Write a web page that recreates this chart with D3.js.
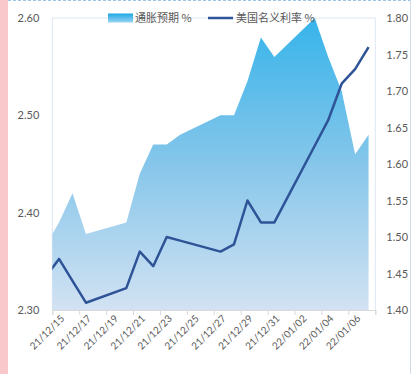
<!DOCTYPE html>
<html>
<head>
<meta charset="utf-8">
<script src="https://cdn.jsdelivr.net/npm/d3@7"></script>
<style>
  html, body { margin: 0; padding: 0; background: #fff; }
  svg { display: block; }
</style>
</head>
<body>
<div id="chart"></div>
<script>
// Data (business days; 12/14 lies just left of the axis start and is clipped)
const dates = ['2021-12-14', '2021-12-15', '2021-12-16', '2021-12-17', '2021-12-20', '2021-12-21',
  '2021-12-22', '2021-12-23', '2021-12-24', '2021-12-27', '2021-12-28', '2021-12-29', '2021-12-30',
  '2021-12-31', '2022-01-03', '2022-01-04', '2022-01-05', '2022-01-06', '2022-01-07'];
const inflationExp = [2.366, 2.39, 2.42, 2.378, 2.39, 2.44, 2.47, 2.47, 2.48, 2.50, 2.50, 2.535,
  2.58, 2.56, 2.60, 2.56, 2.525, 2.46, 2.48];
const nominalRate = [1.445, 1.47, 1.44, 1.41, 1.43, 1.48, 1.46, 1.50, 1.495, 1.48, 1.49, 1.55,
  1.52, 1.52, 1.625, 1.66, 1.71, 1.73, 1.76];
const tickDates = ['2021-12-15', '2021-12-17', '2021-12-19', '2021-12-21', '2021-12-23', '2021-12-25',
  '2021-12-27', '2021-12-29', '2021-12-31', '2022-01-02', '2022-01-04', '2022-01-06', '2022-01-08'];
const leftTicks = [2.30, 2.40, 2.50, 2.60];
const rightTicks = [1.40, 1.45, 1.50, 1.55, 1.60, 1.65, 1.70, 1.75, 1.80];
const seriesNames = ['通胀预期 %', '美国名义利率 %'];

const width = 412, height = 374;
const plot = { left: 52.3, right: 375.3, top: 18, bottom: 310 };

const parse = d3.timeParse('%Y-%m-%d');
// points sit in the middle of each day's slot
const noon = s => d3.timeHour.offset(parse(s), 12);
const data = dates.map((d, i) => ({ date: noon(d), infl: inflationExp[i], rate: nominalRate[i] }));

const svg = d3.select('#chart')
  .append('svg')
  .attr('width', width)
  .attr('height', height);

const x = d3.scaleTime()
  .domain([parse(tickDates[0]), parse(tickDates[tickDates.length - 1])])
  .range([plot.left, plot.right]);
const yL = d3.scaleLinear().domain([2.3, 2.6]).range([plot.bottom, plot.top]);
const yR = d3.scaleLinear().domain([1.4, 1.8]).range([plot.bottom, plot.top]);

const numFont = 'Lato, "Noto Sans", sans-serif';
const cjkFont = '"Noto Sans CJK SC", "Noto Sans", sans-serif';
const textColor = '#595959';

// Frame decorations
svg.append('rect')
  .attr('x', 0).attr('y', 0).attr('width', 8).attr('height', height)
  .attr('fill', '#f9c8cb');
svg.append('line')
  .attr('x1', 8).attr('x2', width).attr('y1', 0.5).attr('y2', 0.5)
  .attr('stroke', '#9dc3e6').attr('stroke-dasharray', '3,2');
svg.append('line')
  .attr('x1', width - 1.5).attr('x2', width - 1.5).attr('y1', 0).attr('y2', height)
  .attr('stroke', '#d0dce8');

const defs = svg.append('defs');
const grad = defs.append('linearGradient')
  .attr('id', 'areaGrad')
  .attr('gradientUnits', 'userSpaceOnUse')
  .attr('x1', 0).attr('x2', 0)
  .attr('y1', plot.top).attr('y2', plot.bottom);
grad.append('stop').attr('offset', '0%').attr('stop-color', '#36b4ea');
grad.append('stop').attr('offset', '50%').attr('stop-color', '#86c6ea');
grad.append('stop').attr('offset', '100%').attr('stop-color', '#d2e2f3');

const swGrad = defs.append('linearGradient')
  .attr('id', 'swatchGrad')
  .attr('x1', 0).attr('x2', 0).attr('y1', 0).attr('y2', 1);
swGrad.append('stop').attr('offset', '0%').attr('stop-color', '#1da8e6');
swGrad.append('stop').attr('offset', '100%').attr('stop-color', '#9ad4f2');

defs.append('clipPath').attr('id', 'plotClip')
  .append('rect')
  .attr('x', plot.left).attr('y', plot.top - 2)
  .attr('width', plot.right - plot.left).attr('height', plot.bottom - plot.top + 2);

// Plot frame
svg.append('path')
  .attr('d', `M${plot.left},${plot.bottom}V${plot.top}H${plot.right}V${plot.bottom}`)
  .attr('fill', 'none')
  .attr('stroke', '#dce6f2');

// Area series
const area = d3.area()
  .x(d => x(d.date))
  .y0(plot.bottom)
  .y1(d => yL(d.infl));
svg.append('path')
  .datum(data)
  .attr('clip-path', 'url(#plotClip)')
  .attr('fill', 'url(#areaGrad)')
  .attr('d', area);

// Line series
const line = d3.line()
  .x(d => x(d.date))
  .y(d => yR(d.rate));
svg.append('path')
  .datum(data)
  .attr('clip-path', 'url(#plotClip)')
  .attr('fill', 'none')
  .attr('stroke', '#2e5497')
  .attr('stroke-width', 2.5)
  .attr('stroke-linejoin', 'round')
  .attr('d', line);

// X axis
const xTicks = tickDates.map(parse);
const fmt = d3.timeFormat('%y/%m/%d');
const xAxis = svg.append('g')
  .attr('transform', `translate(0,${plot.bottom})`)
  .call(d3.axisBottom(x)
    .tickValues(xTicks)
    .tickSize(5)
    .tickFormat((d, i) => i < xTicks.length - 1 ? fmt(d) : ''));
xAxis.select('.domain').attr('stroke', '#d9d9d9');
xAxis.selectAll('.tick line').attr('stroke', '#d9d9d9');
xAxis.selectAll('.tick text')
  .attr('fill', textColor)
  .attr('font-family', numFont)
  .attr('font-size', 10)
  .attr('text-anchor', 'end')
  .attr('transform', 'translate(3,0) rotate(-45)')
  .attr('x', 0).attr('y', 6).attr('dy', '0.71em');

// Left axis
const leftAxis = svg.append('g')
  .attr('transform', `translate(${plot.left},0)`)
  .call(d3.axisLeft(yL).tickValues(leftTicks).tickSize(0).tickPadding(13).tickFormat(d3.format('.2f')));
leftAxis.select('.domain').remove();
leftAxis.selectAll('text')
  .attr('fill', textColor)
  .attr('font-family', numFont)
  .attr('font-size', 11);

// Right axis
const rightAxis = svg.append('g')
  .attr('transform', `translate(${plot.right},0)`)
  .call(d3.axisRight(yR).tickValues(rightTicks).tickSize(0).tickPadding(11).tickFormat(d3.format('.2f')));
rightAxis.select('.domain').remove();
rightAxis.selectAll('text')
  .attr('fill', textColor)
  .attr('font-family', numFont)
  .attr('font-size', 11);

// Legend
const legend = svg.append('g');
legend.append('rect')
  .attr('x', 108).attr('y', 13.5).attr('width', 25).attr('height', 9)
  .attr('fill', 'url(#swatchGrad)');
legend.append('text')
  .attr('x', 135).attr('y', 18).attr('dy', '0.35em')
  .attr('font-family', cjkFont).attr('font-size', 11)
  .attr('fill', textColor)
  .text(seriesNames[0]);
legend.append('line')
  .attr('x1', 208).attr('x2', 233).attr('y1', 18).attr('y2', 18)
  .attr('stroke', '#2e5497').attr('stroke-width', 2.5);
legend.append('text')
  .attr('x', 236).attr('y', 18).attr('dy', '0.35em')
  .attr('font-family', cjkFont).attr('font-size', 11)
  .attr('fill', textColor)
  .text(seriesNames[1]);
</script>
</body>
</html>
